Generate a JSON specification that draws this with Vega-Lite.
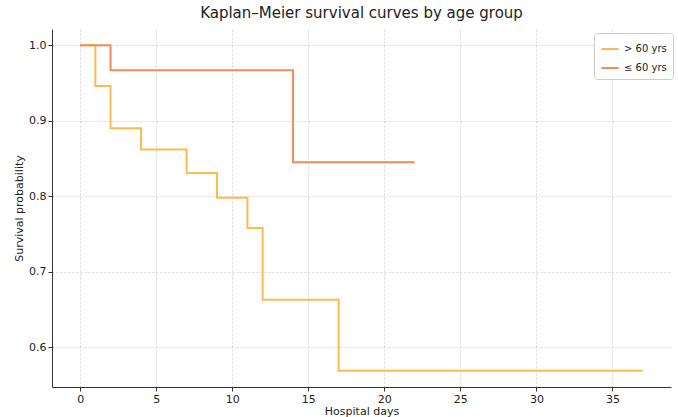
{
  "$schema": "https://vega.github.io/schema/vega-lite/v6.json",
  "width": 619,
  "height": 358,
  "autosize": "none",
  "padding": {"left": 52, "top": 29, "right": 7, "bottom": 30},
  "background": "white",
  "title": {"text": "Kaplan–Meier survival curves by age group", "fontSize": 15, "font": "DejaVu Sans", "fontWeight": "normal", "color": "#222", "offset": 8},
  "config": {"view": {"stroke": null}, "font": "DejaVu Sans"},
  "data": {"values": [
    {"group": "> 60 yrs", "day": 0, "surv": 1.0},
    {"group": "> 60 yrs", "day": 1, "surv": 0.946},
    {"group": "> 60 yrs", "day": 2, "surv": 0.890},
    {"group": "> 60 yrs", "day": 4, "surv": 0.862},
    {"group": "> 60 yrs", "day": 7, "surv": 0.831},
    {"group": "> 60 yrs", "day": 9, "surv": 0.798},
    {"group": "> 60 yrs", "day": 11, "surv": 0.758},
    {"group": "> 60 yrs", "day": 12, "surv": 0.663},
    {"group": "> 60 yrs", "day": 17, "surv": 0.569},
    {"group": "> 60 yrs", "day": 37, "surv": 0.569},
    {"group": "≤ 60 yrs", "day": 0, "surv": 1.0},
    {"group": "≤ 60 yrs", "day": 2, "surv": 0.967},
    {"group": "≤ 60 yrs", "day": 14, "surv": 0.845},
    {"group": "≤ 60 yrs", "day": 22, "surv": 0.845}
  ]},
  "mark": {"type": "line", "interpolate": "step-after", "strokeWidth": 2, "clip": true},
  "encoding": {
    "x": {"field": "day", "type": "quantitative",
      "scale": {"domain": [-1.85, 38.85], "nice": false, "zero": false},
      "axis": {"title": "Hospital days", "values": [0,5,10,15,20,25,30,35], "format": "d",
        "grid": true, "gridDash": [2,2], "gridColor": "#d4d4d4", "domainColor": "#333", "tickColor": "#333",
        "labelFontSize": 11, "titleFontSize": 11, "titleFontWeight": "normal", "labelColor": "#222", "titleColor": "#222", "titlePadding": 1, "labelPadding": 2, "tickSize": 4}},
    "y": {"field": "surv", "type": "quantitative",
      "scale": {"domain": [0.5475, 1.0215], "nice": false, "zero": false},
      "axis": {"title": "Survival probability", "values": [0.6,0.7,0.8,0.9,1.0], "format": ".1f",
        "grid": true, "gridDash": [2,2], "gridColor": "#d4d4d4", "domainColor": "#333", "tickColor": "#333",
        "labelFontSize": 11, "titleFontSize": 11, "titleFontWeight": "normal", "labelColor": "#222", "titleColor": "#222", "titlePadding": 4, "tickSize": 4}},
    "color": {"field": "group", "type": "nominal",
      "scale": {"domain": ["> 60 yrs", "≤ 60 yrs"], "range": ["#FFBA4F", "#F48A58"]},
      "legend": {"title": null, "orient": "none", "legendX": 542, "legendY": 4, "symbolType": "stroke", "symbolStrokeWidth": 2, "symbolSize": 300,
        "labelFontSize": 10, "labelColor": "#222", "strokeColor": "#cccccc", "fillColor": "white", "padding": 6, "cornerRadius": 3, "rowPadding": 4}}
  }
}
